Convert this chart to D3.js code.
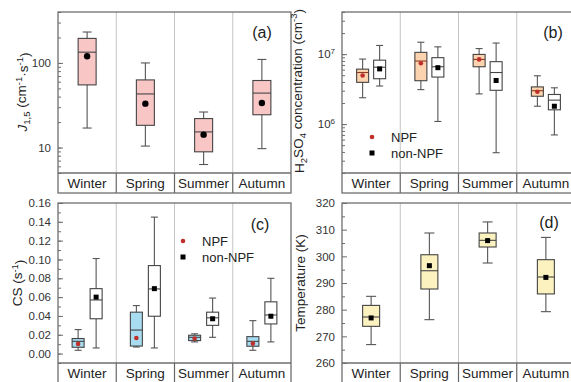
<!DOCTYPE html>
<html>
<head>
<meta charset="utf-8">
<script src="https://cdn.jsdelivr.net/npm/d3@7"></script>
<style>
  body { margin: 0; background: #fff; }
  svg text { font-family: "Liberation Sans", Arial, sans-serif; }
</style>
</head>
<body>
<div id="chart"></div>
<script>
const seasons = ["Winter", "Spring", "Summer", "Autumn"];

// each row: [low whisker, Q1, median, Q3, high whisker, mean]
const jRate = [
  [17, 55, 134, 195, 232, 120],
  [10.4, 18.3, 43, 63, 100, 33],
  [6.3, 8.9, 15.3, 22, 26.3, 14.2],
  [9.7, 24.4, 44, 62, 110, 33.6]
];
const h2so4NPF = [
  [2.38e6, 3.95e6, 5.46e6, 6.1e6, 8.5e6, 4.94e6],
  [3.11e6, 4.17e6, 7.96e6, 1.06e7, 1.48e7, 7.4e6],
  [2.7e6, 6.6e6, 8.4e6, 9.9e6, 1.2e7, 8.4e6],
  [1.8e6, 2.5e6, 3.0e6, 3.4e6, 4.9e6, 2.9e6]
];
const h2so4Non = [
  [3.5e6, 4.45e6, 6.5e6, 8.2e6, 1.33e7, 6.15e6],
  [1.09e6, 4.7e6, 6.6e6, 8.9e6, 1.27e7, 6.4e6],
  [3.9e5, 3.04e6, 5.46e6, 7.8e6, 1.44e7, 4.2e6],
  [7e5, 1.6e6, 2.2e6, 2.65e6, 3.3e6, 1.8e6]
];
const csNPF = [
  [0.0035, 0.0067, 0.013, 0.016, 0.0255, 0.0103],
  [0.007, 0.008, 0.025, 0.044, 0.051, 0.0166],
  [0.0124, 0.0138, 0.0173, 0.0195, 0.021, 0.016],
  [0.0035, 0.0078, 0.013, 0.018, 0.035, 0.0106]
];
const csNon = [
  [0.006, 0.037, 0.057, 0.069, 0.101, 0.060],
  [0.006, 0.0397, 0.0687, 0.0935, 0.145, 0.069],
  [0.0173, 0.030, 0.038, 0.044, 0.059, 0.037],
  [0.0124, 0.0315, 0.041, 0.055, 0.080, 0.0397]
];
const temperature = [
  [266.9, 273.75, 277.25, 281.6, 285, 276.9],
  [276.25, 287.75, 294.6, 300.6, 308.75, 296.5],
  [297.5, 303.5, 306, 308.75, 312.9, 305.9],
  [279.25, 285.9, 292.25, 298.75, 307.1, 292.1]
];

const jTicks = [10, 100];
const h2so4Ticks = [1e6, 1e7];
const csTicks = [0, 0.02, 0.04, 0.06, 0.08, 0.10, 0.12, 0.14, 0.16];
const tempTicks = [260, 270, 280, 290, 300, 310, 320];

const W = 571, H = 382;
const frameColor = "#6e6e6e";
const textColor = "#333";

const svg = d3.select("#chart").append("svg")
  .attr("width", W).attr("height", H);

function logMinors(lo, hi) {
  const out = [];
  for (let e = Math.floor(Math.log10(lo)); e <= Math.ceil(Math.log10(hi)); e++) {
    for (let m = 1; m <= 9; m++) {
      const v = m * Math.pow(10, e);
      if (v >= lo && v <= hi) out.push(v);
    }
  }
  return out;
}

function drawPanel(p) {
  const g = svg.append("g");
  const x = d3.scaleBand().domain(seasons).range([p.x0, p.x1]);
  const y = (p.log ? d3.scaleLog() : d3.scaleLinear())
    .domain(p.domain).range([p.y1, p.y0]);

  // grey category dividers inside plot
  seasons.slice(1).forEach(s => {
    g.append("line")
      .attr("x1", x(s)).attr("x2", x(s))
      .attr("y1", p.y0).attr("y2", p.y1)
      .attr("stroke", "#c4c4c4").attr("stroke-width", 1);
    g.append("line")
      .attr("x1", x(s)).attr("x2", x(s))
      .attr("y1", p.y1).attr("y2", p.y1 + 20)
      .attr("stroke", "#666").attr("stroke-width", 1.2);
  });

  // minor ticks
  g.append("g")
    .attr("transform", `translate(${p.x0},0)`)
    .call(d3.axisLeft(y).tickValues(p.minor).tickSizeInner(-3).tickSizeOuter(0).tickFormat(""))
    .call(a => a.select(".domain").remove())
    .call(a => a.selectAll("line").attr("stroke", frameColor));

  // major ticks
  const ax = g.append("g")
    .attr("transform", `translate(${p.x0},0)`)
    .call(d3.axisLeft(y).tickValues(p.ticks).tickSizeInner(-5).tickSizeOuter(0).tickPadding(7)
      .tickFormat(p.fmt))
    .call(a => a.select(".domain").remove())
    .call(a => a.selectAll("line").attr("stroke", frameColor))
    .call(a => a.selectAll("text").attr("fill", textColor).style("font-size", "11.5px")
      .style("font-family", "'Liberation Sans', Arial, sans-serif"));
  if (p.sciLabels) {
    ax.selectAll("text").text(null).each(function(d) {
      const t = d3.select(this);
      t.append("tspan").text("10");
      t.append("tspan").attr("dy", "-0.5em").style("font-size", "8px")
        .text(Math.round(Math.log10(d)));
    });
  }

  // frame
  g.append("rect")
    .attr("x", p.x0).attr("y", p.y0)
    .attr("width", p.x1 - p.x0).attr("height", p.y1 - p.y0 + 20)
    .attr("fill", "none").attr("stroke", frameColor).attr("stroke-width", 1.3);
  g.append("line")
    .attr("x1", p.x0).attr("x2", p.x1)
    .attr("y1", p.y1).attr("y2", p.y1)
    .attr("stroke", frameColor).attr("stroke-width", 1.3);

  // category labels
  g.selectAll("text.cat").data(seasons).enter().append("text")
    .attr("class", "cat")
    .attr("x", d => x(d) + x.bandwidth() / 2)
    .attr("y", p.y1 + 15)
    .attr("text-anchor", "middle")
    .style("font-size", "13.5px")
    .attr("fill", "#222")
    .text(d => d);

  // boxes
  p.series.forEach(s => {
    const bw = s.width, cap = s.cap;
    const bg = g.selectAll(null).data(s.data).enter().append("g")
      .attr("transform", (d, i) => `translate(${x(seasons[i]) + x.bandwidth() / 2 + s.offset},0)`);
    bg.append("line")
      .attr("x1", 0).attr("x2", 0)
      .attr("y1", d => y(d[0])).attr("y2", d => y(d[4]))
      .attr("stroke", "#555").attr("stroke-width", 1.1);
    bg.append("line")
      .attr("x1", -cap / 2).attr("x2", cap / 2)
      .attr("y1", d => y(d[0])).attr("y2", d => y(d[0]))
      .attr("stroke", "#555").attr("stroke-width", 1.1);
    bg.append("line")
      .attr("x1", -cap / 2).attr("x2", cap / 2)
      .attr("y1", d => y(d[4])).attr("y2", d => y(d[4]))
      .attr("stroke", "#555").attr("stroke-width", 1.1);
    bg.append("rect")
      .attr("x", -bw / 2).attr("width", bw)
      .attr("y", d => y(d[3])).attr("height", d => y(d[1]) - y(d[3]))
      .attr("fill", s.fill).attr("stroke", "#444").attr("stroke-width", 1.1);
    bg.append("line")
      .attr("x1", -bw / 2).attr("x2", bw / 2)
      .attr("y1", d => y(d[2])).attr("y2", d => y(d[2]))
      .attr("stroke", s.medianColor || "#444").attr("stroke-width", 1.1);
    if (s.mean === "circle") {
      bg.append("circle").attr("cx", 0).attr("cy", d => y(d[5]))
        .attr("r", 3.2).attr("fill", "#000");
    } else if (s.mean === "red") {
      bg.append("circle").attr("cx", 0).attr("cy", d => y(d[5]))
        .attr("r", 2.3).attr("fill", "#c0302a");
    } else {
      bg.append("rect").attr("x", -2.5).attr("y", d => y(d[5]) - 2.5)
        .attr("width", 5).attr("height", 5).attr("fill", "#000");
    }
  });

  // panel tag
  g.append("text")
    .attr("x", p.tag[0]).attr("y", p.tag[1])
    .attr("text-anchor", "middle")
    .style("font-size", "16px").attr("fill", "#222")
    .text(p.tagText);

  // legend
  if (p.legend) {
    const [lx, ly] = p.legend;
    g.append("circle").attr("cx", lx).attr("cy", ly).attr("r", 2.3).attr("fill", "#c0302a");
    g.append("rect").attr("x", lx - 2.5).attr("y", ly + 16 - 2.5)
      .attr("width", 5).attr("height", 5).attr("fill", "#000");
    g.append("text").attr("x", lx + 19).attr("y", ly + 5)
      .style("font-size", "13px").attr("fill", "#222").text("NPF");
    g.append("text").attr("x", lx + 19).attr("y", ly + 21)
      .style("font-size", "13px").attr("fill", "#222").text("non-NPF");
  }

  // y label
  const yl = g.append("text")
    .attr("transform", `translate(${p.label[0]},${p.label[1]}) rotate(-90)`)
    .attr("text-anchor", "middle")
    .style("font-size", "13.5px").attr("fill", "#222");
  p.labelParts.forEach(part => {
    const t = yl.append("tspan").text(part.t);
    if (part.italic) t.style("font-style", "italic");
    if (part.sub) t.attr("dy", "0.3em").style("font-size", "9.5px");
    if (part.sup) t.attr("dy", "-0.45em").style("font-size", "9.5px");
    if (part.back) t.attr("dy", part.back);
  });
}

drawPanel({
  x0: 58, x1: 291, y0: 12, y1: 173, log: true, domain: [5, 400],
  ticks: jTicks, minor: logMinors(5, 400), fmt: d3.format("d"),
  series: [{ data: jRate, offset: 0, width: 18, cap: 9, fill: "#f9c6c6", mean: "circle" }],
  tag: [262, 38], tagText: "(a)",
  label: [27, 92],
  labelParts: [
    { t: "J", italic: true }, { t: "1,5", sub: true },
    { t: " (cm", back: "-0.3em" }, { t: "-1", sup: true },
    { t: "·s", back: "0.45em" }, { t: "-1", sup: true }, { t: ")", back: "0.45em" }
  ]
});

drawPanel({
  x0: 342, x1: 575, y0: 12, y1: 173, log: true, domain: [2e5, 4e7],
  ticks: h2so4Ticks, minor: logMinors(2e5, 4e7), fmt: d3.format("d"), sciLabels: true,
  series: [
    { data: h2so4NPF, offset: -8.5, width: 12, cap: 7, fill: "#fbd3ae", mean: "red", medianColor: "#8a3a20" },
    { data: h2so4Non, offset: 8.5, width: 12, cap: 7, fill: "#fff", mean: "square" }
  ],
  tag: [553, 38], tagText: "(b)",
  legend: [372, 137],
  label: [304, 91],
  labelParts: [
    { t: "H" }, { t: "2", sub: true }, { t: "SO", back: "-0.3em" }, { t: "4", sub: true },
    { t: " concentration (cm", back: "-0.3em" }, { t: "-3", sup: true }, { t: ")", back: "0.45em" }
  ]
});

drawPanel({
  x0: 58, x1: 291, y0: 203, y1: 363, log: false, domain: [-0.01, 0.16],
  ticks: csTicks, minor: d3.range(-0.01, 0.165, 0.01), fmt: d3.format(".2f"),
  series: [
    { data: csNPF, offset: -9, width: 12, cap: 7, fill: "#a8dcf0", mean: "red" },
    { data: csNon, offset: 9, width: 12, cap: 7, fill: "#fff", mean: "square" }
  ],
  tag: [260, 230], tagText: "(c)",
  legend: [183, 241],
  label: [22, 283],
  labelParts: [
    { t: "CS (s" }, { t: "-1", sup: true }, { t: ")", back: "0.45em" }
  ]
});

drawPanel({
  x0: 342, x1: 575, y0: 203, y1: 363, log: false, domain: [260, 320],
  ticks: tempTicks, minor: d3.range(265, 320, 10), fmt: d3.format("d"),
  series: [{ data: temperature, offset: 0, width: 17, cap: 10, fill: "#fcf2c0", mean: "square" }],
  tag: [549, 228], tagText: "(d)",
  label: [305, 283],
  labelParts: [{ t: "Temperature (K)" }]
});
</script>
</body>
</html>
